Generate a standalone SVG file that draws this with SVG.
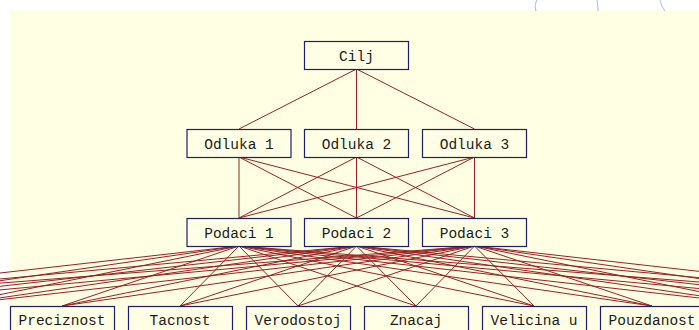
<svg xmlns="http://www.w3.org/2000/svg" width="699" height="330" viewBox="0 0 699 330">
  <style>
    .box { fill: #FFFFE6; stroke: #1E1E70; stroke-width: 1.2; }
    .lbl { font-family: "Liberation Mono", "DejaVu Sans Mono", monospace; font-size: 14.5px; fill: #1a1a1a; text-anchor: middle; }
    .edge line { stroke: #9a2020; stroke-width: 1; }
    .edge-mark { fill: none; stroke: #b9c7e6; stroke-width: 1.2; }
  </style>
  <rect x="0" y="0" width="699" height="330" fill="#FFFFFF"/>
  <rect x="10" y="10" width="689" height="320" fill="#FFFFE3"/>
  <!-- faint curved strokes along the top margin -->
  <path class="edge-mark" d="M537 0 Q534 5 536 11"/>
  <path class="edge-mark" d="M597 0 Q598 5 598 11"/>
  <path class="edge-mark" d="M660 0 Q661 6 665 11"/>

  <!-- connectors -->
  <g id="connectors" class="edge">
    <!-- goal to decisions -->
    <line x1="356.5" y1="69" x2="239" y2="129"/>
    <line x1="356.5" y1="69" x2="356.5" y2="129"/>
    <line x1="356.5" y1="69" x2="474.5" y2="129"/>
    <!-- decisions to data -->
    <line x1="239" y1="157" x2="239" y2="218"/>
    <line x1="239" y1="157" x2="356.5" y2="218"/>
    <line x1="239" y1="157" x2="474.5" y2="218"/>
    <line x1="356.5" y1="157" x2="239" y2="218"/>
    <line x1="356.5" y1="157" x2="356.5" y2="218"/>
    <line x1="356.5" y1="157" x2="474.5" y2="218"/>
    <line x1="474.5" y1="157" x2="239" y2="218"/>
    <line x1="474.5" y1="157" x2="356.5" y2="218"/>
    <line x1="474.5" y1="157" x2="474.5" y2="218"/>
    <!-- data to criteria (row continues past both edges) -->
    <g id="from-podaci-1">
      <line x1="239" y1="246" x2="-292" y2="306"/>
      <line x1="239" y1="246" x2="-174" y2="306"/>
      <line x1="239" y1="246" x2="-56" y2="306"/>
      <line x1="239" y1="246" x2="62" y2="306"/>
      <line x1="239" y1="246" x2="180" y2="306"/>
      <line x1="239" y1="246" x2="298" y2="306"/>
      <line x1="239" y1="246" x2="416" y2="306"/>
      <line x1="239" y1="246" x2="534" y2="306"/>
      <line x1="239" y1="246" x2="652" y2="306"/>
      <line x1="239" y1="246" x2="770" y2="306"/>
      <line x1="239" y1="246" x2="888" y2="306"/>
      <line x1="239" y1="246" x2="1006" y2="306"/>
    </g>
    <g id="from-podaci-2">
      <line x1="356.5" y1="246" x2="-292" y2="306"/>
      <line x1="356.5" y1="246" x2="-174" y2="306"/>
      <line x1="356.5" y1="246" x2="-56" y2="306"/>
      <line x1="356.5" y1="246" x2="62" y2="306"/>
      <line x1="356.5" y1="246" x2="180" y2="306"/>
      <line x1="356.5" y1="246" x2="298" y2="306"/>
      <line x1="356.5" y1="246" x2="416" y2="306"/>
      <line x1="356.5" y1="246" x2="534" y2="306"/>
      <line x1="356.5" y1="246" x2="652" y2="306"/>
      <line x1="356.5" y1="246" x2="770" y2="306"/>
      <line x1="356.5" y1="246" x2="888" y2="306"/>
      <line x1="356.5" y1="246" x2="1006" y2="306"/>
    </g>
    <g id="from-podaci-3">
      <line x1="474.5" y1="246" x2="-292" y2="306"/>
      <line x1="474.5" y1="246" x2="-174" y2="306"/>
      <line x1="474.5" y1="246" x2="-56" y2="306"/>
      <line x1="474.5" y1="246" x2="62" y2="306"/>
      <line x1="474.5" y1="246" x2="180" y2="306"/>
      <line x1="474.5" y1="246" x2="298" y2="306"/>
      <line x1="474.5" y1="246" x2="416" y2="306"/>
      <line x1="474.5" y1="246" x2="534" y2="306"/>
      <line x1="474.5" y1="246" x2="652" y2="306"/>
      <line x1="474.5" y1="246" x2="770" y2="306"/>
      <line x1="474.5" y1="246" x2="888" y2="306"/>
      <line x1="474.5" y1="246" x2="1006" y2="306"/>
    </g>
  </g>

  <!-- goal -->
  <g id="cilj"><rect class="box" x="304.5" y="41.5" width="104" height="28"/><text class="lbl" x="356.5" y="60.5">Cilj</text></g>

  <!-- decisions -->
  <g id="odluka-1"><rect class="box" x="187" y="129.5" width="104" height="28"/><text class="lbl" x="239" y="148.5">Odluka 1</text></g>
  <g id="odluka-2"><rect class="box" x="304.5" y="129.5" width="104" height="28"/><text class="lbl" x="356.5" y="148.5">Odluka 2</text></g>
  <g id="odluka-3"><rect class="box" x="422.5" y="129.5" width="104" height="28"/><text class="lbl" x="474.5" y="148.5">Odluka 3</text></g>

  <!-- data -->
  <g id="podaci-1"><rect class="box" x="187" y="218.5" width="104" height="28"/><text class="lbl" x="239" y="237.5">Podaci 1</text></g>
  <g id="podaci-2"><rect class="box" x="304.5" y="218.5" width="104" height="28"/><text class="lbl" x="356.5" y="237.5">Podaci 2</text></g>
  <g id="podaci-3"><rect class="box" x="422.5" y="218.5" width="104" height="28"/><text class="lbl" x="474.5" y="237.5">Podaci 3</text></g>

  <!-- criteria -->
  <g id="preciznost"><rect class="box" x="10.5" y="306.5" width="104" height="28"/><text class="lbl" x="62" y="325">Preciznost</text></g>
  <g id="tacnost"><rect class="box" x="128.5" y="306.5" width="104" height="28"/><text class="lbl" x="180" y="325">Tacnost</text></g>
  <g id="verodostoj"><rect class="box" x="246.5" y="306.5" width="104" height="28"/><text class="lbl" x="298" y="325">Verodostoj</text></g>
  <g id="znacaj"><rect class="box" x="364.5" y="306.5" width="104" height="28"/><text class="lbl" x="416" y="325">Znacaj</text></g>
  <g id="velicina"><rect class="box" x="482.5" y="306.5" width="104" height="28"/><text class="lbl" x="534" y="325">Velicina u</text></g>
  <g id="pouzdanost"><rect class="box" x="600.5" y="306.5" width="104" height="28"/><text class="lbl" x="652" y="325">Pouzdanost</text></g>
</svg>
